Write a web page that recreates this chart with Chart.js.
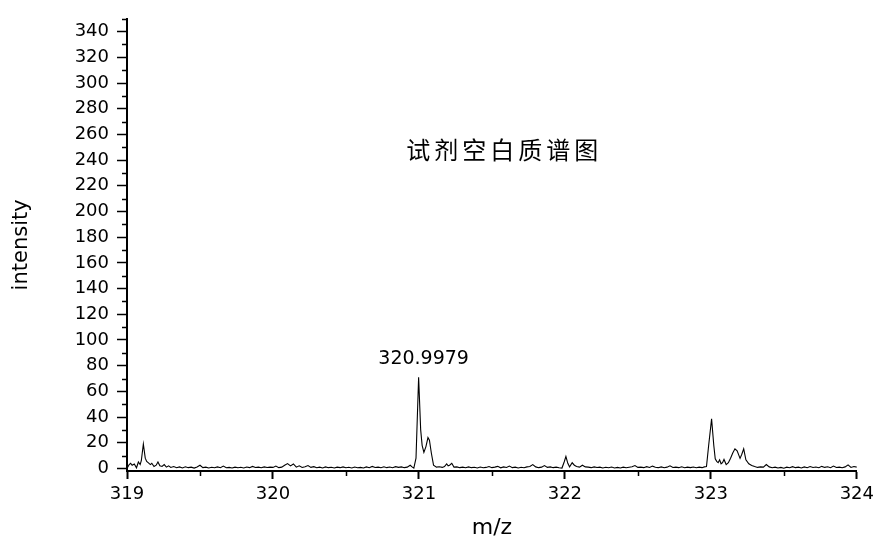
<!DOCTYPE html>
<html>
<head>
<meta charset="utf-8">
<script src="https://cdn.jsdelivr.net/npm/chart.js@4.4.1/dist/chart.umd.min.js"></script>
<style>
  html, body { margin: 0; padding: 0; background: #fff; }
  #wrap { width: 879px; height: 541px; }
</style>
</head>
<body>
<div id="wrap"><canvas id="chart"></canvas></div>
<script>
// m/z values and intensities
const mz = [
  319.000, 319.015, 319.025, 319.035, 319.050, 319.065, 319.078, 319.090, 319.098, 319.112,
  319.125, 319.135, 319.145, 319.160, 319.170, 319.185, 319.200, 319.212, 319.225, 319.240,
  319.255, 319.270, 319.285, 319.300, 319.32, 319.34, 319.36, 319.38, 319.40, 319.42,
  319.44, 319.46, 319.48, 319.50, 319.52, 319.54, 319.56, 319.58, 319.60, 319.62,
  319.64, 319.66, 319.68, 319.70, 319.72, 319.74, 319.76, 319.78, 319.80, 319.82,
  319.84, 319.86, 319.88, 319.90, 319.92, 319.94, 319.96, 319.98, 320.00, 320.02,
  320.04, 320.06, 320.08, 320.10, 320.12, 320.14, 320.16, 320.18, 320.20, 320.22,
  320.24, 320.26, 320.28, 320.30, 320.32, 320.34, 320.36, 320.38, 320.40, 320.42,
  320.44, 320.46, 320.48, 320.50, 320.52, 320.54, 320.56, 320.58, 320.60, 320.62,
  320.64, 320.66, 320.68, 320.70, 320.72, 320.74, 320.76, 320.78, 320.80, 320.82,
  320.84, 320.86, 320.88, 320.90, 320.92, 320.94, 320.955, 320.965, 320.980, 320.9979,
  321.012, 321.022, 321.034, 321.048, 321.062, 321.072, 321.085, 321.100, 321.12, 321.14,
  321.16, 321.175, 321.19, 321.20, 321.21, 321.225, 321.24, 321.26, 321.28, 321.30,
  321.32, 321.34, 321.36, 321.38, 321.40, 321.42, 321.44, 321.46, 321.48, 321.50,
  321.52, 321.54, 321.56, 321.58, 321.60, 321.62, 321.64, 321.66, 321.68, 321.70,
  321.72, 321.74, 321.76, 321.78, 321.80, 321.82, 321.84, 321.86, 321.88, 321.90,
  321.92, 321.94, 321.96, 321.98, 321.995, 322.007, 322.020, 322.032, 322.050, 322.065,
  322.08, 322.10, 322.12, 322.14, 322.16, 322.18, 322.20, 322.22, 322.24, 322.26,
  322.28, 322.30, 322.32, 322.34, 322.36, 322.38, 322.40, 322.42, 322.44, 322.46,
  322.48, 322.50, 322.52, 322.54, 322.56, 322.58, 322.60, 322.62, 322.64, 322.66,
  322.68, 322.70, 322.72, 322.74, 322.76, 322.78, 322.80, 322.82, 322.84, 322.86,
  322.88, 322.90, 322.92, 322.94, 322.955, 322.970, 322.985, 323.005, 323.020, 323.030,
  323.040, 323.050, 323.060, 323.070, 323.080, 323.090, 323.105, 323.120, 323.135, 323.150,
  323.165, 323.180, 323.200, 323.212, 323.225, 323.240, 323.260, 323.280, 323.30, 323.32,
  323.34, 323.36, 323.38, 323.40, 323.42, 323.44, 323.46, 323.48, 323.50, 323.52,
  323.54, 323.56, 323.58, 323.60, 323.62, 323.64, 323.66, 323.68, 323.70, 323.72,
  323.74, 323.76, 323.78, 323.80, 323.82, 323.84, 323.86, 323.88, 323.90, 323.92,
  323.94, 323.96, 323.98, 324.00
];
const intensity = [
  0, 3, 4, 2.5, 3.5, 0.5, 5, 3, 6, 19,
  8, 5.5, 4.5, 3, 4, 1.5, 2.5, 5, 2, 1.5,
  3, 1, 2, 0.8, 1.5, 0.5, 1.2, 0.4, 1.3, 0.6,
  1.0, 0.3, 1.2, 2.5, 0.6, 1.0, 0.4, 0.9, 0.5, 1.2,
  0.6, 1.8, 0.5, 0.8, 0.3, 1.0, 0.5, 0.9, 0.4, 1.1,
  0.6, 1.6, 0.7, 1.0, 0.5, 1.2, 0.7, 1.0, 0.8, 1.8,
  0.6, 1.0, 2.5, 3.8, 2.0, 3.5, 1.0, 2.0, 0.7, 1.3,
  2.2, 0.8, 1.4, 0.5, 1.0, 0.4, 1.2, 0.6, 0.9, 0.3,
  1.0, 0.6, 1.2, 0.5, 0.9, 0.4, 1.1, 0.5, 0.8, 0.4,
  1.2, 0.6, 1.6, 0.7, 1.0, 0.5, 1.3, 0.6, 1.1, 0.5,
  1.4, 0.8, 1.2, 0.6, 1.0, 2.5, 1.0, 0.3, 8, 71,
  30, 18, 12.5, 17, 24, 22, 12, 2.5, 1.0, 1.3,
  0.8, 1.5, 3.6, 2.0, 2.5, 4.0, 1.0, 1.2, 0.6, 1.0,
  0.5, 1.2, 0.6, 0.9, 0.4, 1.1, 0.5, 0.8, 1.5, 0.6,
  1.0, 1.6, 0.5, 1.2, 0.7, 1.8, 0.6, 1.0, 0.4, 0.9,
  0.5, 1.2, 1.5, 3.0, 1.2, 0.6, 1.0, 2.2, 0.8, 1.2,
  0.6, 1.0, 0.5, 0.3, 5, 9.3, 4, 1.2, 4.4, 2.5,
  1.5, 1.0, 2.5, 1.2, 1.0, 0.6, 1.2, 0.7, 1.0, 0.4,
  0.9, 0.5, 1.1, 0.4, 0.8, 0.3, 1.0, 0.5, 0.9, 1.3,
  2.2, 0.8, 1.0, 0.6, 1.4, 0.7, 1.8, 0.9, 0.6, 1.2,
  0.5, 1.0, 2.0, 0.7, 1.0, 0.6, 1.3, 0.5, 1.0, 0.6,
  1.1, 0.5, 1.0, 0.6, 1.2, 1.5, 18, 38.6, 18, 7.5,
  5.5, 4.5, 6.7, 3.6, 4.5, 7, 3, 4.5, 8, 12,
  15.3, 13.7, 7.8, 11, 15.3, 6.7, 3.6, 2.3, 1.5, 0.8,
  1.2, 1.0, 3.0, 1.2, 0.5, 1.0, 0.3, 0.8, 0.2, 1.0,
  0.5, 1.4, 0.6, 1.0, 0.4, 1.2, 0.6, 1.5, 0.7, 1.1,
  0.5, 1.6, 0.8, 1.3, 0.6, 1.8, 0.7, 1.0, 0.5, 1.2,
  2.8, 0.8, 1.5, 1.0
];
const xTicks = [319, 320, 321, 322, 323, 324];
const xMinorTicks = [319.5, 320.5, 321.5, 322.5, 323.5];
const yTicks = [0, 20, 40, 60, 80, 100, 120, 140, 160, 180, 200, 220, 240, 260, 280, 300, 320, 340];
const yMinorTicks = [10, 30, 50, 70, 90, 110, 130, 150, 170, 190, 210, 230, 250, 270, 290, 310, 330, 350];
const chartTitle = "试剂空白质谱图";
const peakLabel = "320.9979";
const peakMz = 320.9979;

const points = mz.map((x, i) => ({ x: x, y: intensity[i] }));

// minor ticks + text annotations
const extrasPlugin = {
  id: "extras",
  afterDraw(chart) {
    const ctx = chart.ctx;
    const xs = chart.scales.x;
    const ys = chart.scales.y;
    const area = chart.chartArea;
    ctx.save();
    ctx.strokeStyle = "#000";
    ctx.lineWidth = 1.5;
    ctx.beginPath();
    yMinorTicks.forEach((v) => {
      const py = Math.round(ys.getPixelForValue(v)) + 0.5;
      ctx.moveTo(area.left - 5, py);
      ctx.lineTo(area.left, py);
    });
    xMinorTicks.forEach((v) => {
      const px = Math.round(xs.getPixelForValue(v)) + 0.5;
      ctx.moveTo(px, area.bottom);
      ctx.lineTo(px, area.bottom + 5);
    });
    ctx.stroke();

    ctx.fillStyle = "#000";
    ctx.textAlign = "center";
    ctx.textBaseline = "middle";
    ctx.font = "19px 'DejaVu Sans'";
    ctx.fillText(peakLabel, xs.getPixelForValue(peakMz) + 5, ys.getPixelForValue(85));

    ctx.font = "400 24px 'Noto Sans CJK SC'";
    ctx.letterSpacing = "4px";
    ctx.fillText(chartTitle, xs.getPixelForValue(321.57) + 2, ys.getPixelForValue(248));
    ctx.restore();
  }
};

const ctx = document.getElementById("chart").getContext("2d");
new Chart(ctx, {
  type: "line",
  data: {
    datasets: [{
      data: points,
      borderColor: "#000",
      borderWidth: 1.1,
      pointRadius: 0,
      tension: 0,
      fill: false
    }]
  },
  options: {
    responsive: true,
    maintainAspectRatio: false,
    animation: false,
    events: [],
    layout: { padding: { left: 0, top: 16, right: 22, bottom: 0 } },
    plugins: {
      legend: { display: false },
      tooltip: { enabled: false }
    },
    scales: {
      x: {
        type: "linear",
        min: 319,
        max: 324,
        afterBuildTicks: (scale) => { scale.ticks = xTicks.map((v) => ({ value: v })); },
        afterFit: (scale) => { scale.height = 70; },
        border: { display: true, color: "#000", width: 2 },
        grid: { drawOnChartArea: false, drawTicks: true, tickLength: 8, tickColor: "#000", tickWidth: 2 },
        ticks: {
          color: "#000",
          padding: 5,
          maxRotation: 0,
          autoSkip: false,
          font: { family: "'DejaVu Sans'", size: 18 },
          callback: (v) => String(v)
        },
        title: {
          display: true,
          text: "m/z",
          color: "#000",
          font: { family: "'DejaVu Sans'", size: 22 },
          padding: { top: 0, bottom: 0 }
        }
      },
      y: {
        type: "linear",
        min: -2,
        max: 350,
        afterBuildTicks: (scale) => { scale.ticks = yTicks.map((v) => ({ value: v })); },
        afterFit: (scale) => { scale.width = 127; },
        border: { display: true, color: "#000", width: 2 },
        grid: { drawOnChartArea: false, drawTicks: true, tickLength: 10, tickColor: "#000", tickWidth: 1.5 },
        ticks: {
          color: "#000",
          padding: 8,
          autoSkip: false,
          font: { family: "'DejaVu Sans'", size: 18 },
          callback: (v) => String(v)
        },
        title: {
          display: true,
          text: "intensity",
          color: "#000",
          font: { family: "'DejaVu Sans'", size: 21 },
          padding: { top: 9, bottom: 0 }
        }
      }
    }
  },
  plugins: [extrasPlugin]
});
</script>
</body>
</html>
